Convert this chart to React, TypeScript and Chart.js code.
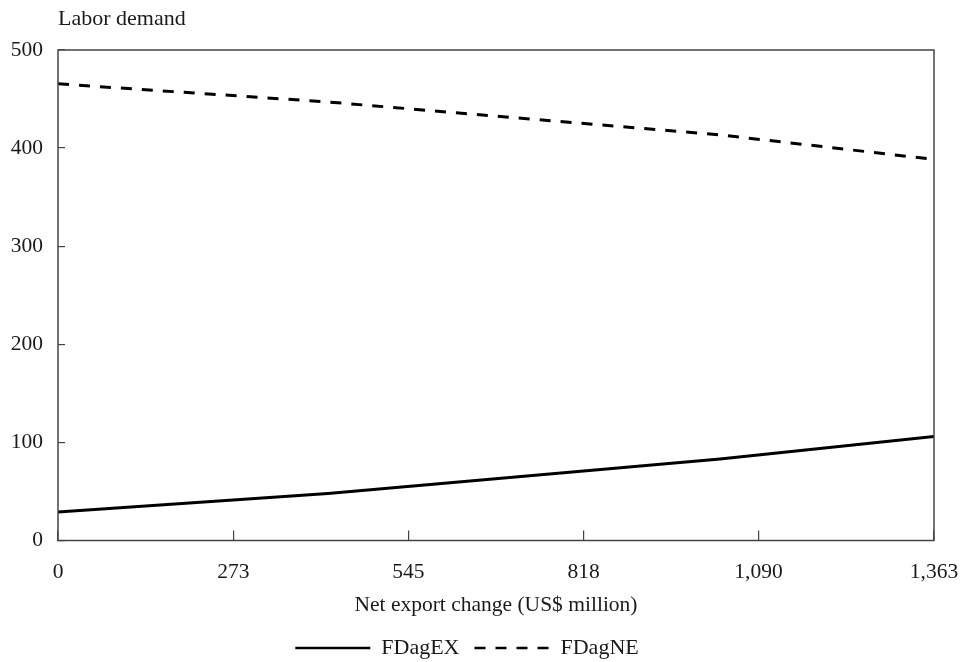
import React, { useEffect, useRef } from "react";
import { Chart, registerables } from "chart.js";

Chart.register(...registerables);

const xValues = [0, 420, 1030, 1363];
const fdagEX = [29, 48, 83, 106];
const fdagNE = [465.5, 447, 413.5, 388.5];
const xTickValues = [0, 273, 545, 818, 1090, 1363];
const seriesNames = ["FDagEX", "FDagNE"];
const yTitle = "Labor demand";
const xTitle = "Net export change (US$ million)";

const FONT = "'Liberation Serif', 'Times New Roman', serif";
const TEXT = "#1a1a1a";
const AXIS = "#444";

const boxPlugin = {
  id: "boxPlugin",
  afterDraw(chart: any) {
    const { ctx, chartArea } = chart;
    ctx.save();
    ctx.strokeStyle = AXIS;
    ctx.lineWidth = 1.5;
    ctx.strokeRect(chartArea.left, chartArea.top, chartArea.right - chartArea.left, chartArea.bottom - chartArea.top);
    ctx.restore();
  },
};

export default function App() {
  const ref = useRef<HTMLCanvasElement | null>(null);
  useEffect(() => {
    if (!ref.current) return;
    const chart = new Chart(ref.current, {
      type: "line",
      data: {
        datasets: [
          {
            label: seriesNames[0],
            data: xValues.map((x, i) => ({ x, y: fdagEX[i] })),
            borderColor: "#000",
            backgroundColor: "#000",
            borderWidth: 3,
            pointRadius: 0,
            tension: 0,
            fill: false,
          },
          {
            label: seriesNames[1],
            data: xValues.map((x, i) => ({ x, y: fdagNE[i] })),
            borderColor: "#000",
            backgroundColor: "#000",
            borderWidth: 3,
            borderDash: [11, 10],
            pointRadius: 0,
            tension: 0,
            fill: false,
          },
        ],
      },
      options: {
        animation: false,
        responsive: true,
        maintainAspectRatio: false,
        layout: { padding: { left: 0, right: 31, top: 0, bottom: -7 } },
        plugins: {
          title: {
            display: true,
            text: yTitle,
            align: "start",
            fullSize: false,
            color: TEXT,
            font: { family: FONT, size: 22, weight: "normal" },
            padding: { top: 6, bottom: 17.6 },
          },
          legend: {
            position: "bottom",
            labels: {
              usePointStyle: true,
              pointStyle: "line",
              pointStyleWidth: 75,
              color: TEXT,
              padding: 15,
              font: { family: FONT, size: 22 },
              generateLabels: (chart: any) => {
                const items = Chart.defaults.plugins.legend.labels.generateLabels(chart);
                return items.map((it: any) => {
                  const ds = chart.data.datasets[it.datasetIndex];
                  return { ...it, lineDash: ds.borderDash || [], lineWidth: 2.5, strokeStyle: "#000", fontColor: TEXT };
                });
              },
            },
          },
          tooltip: { enabled: false },
        },
        scales: {
          x: {
            type: "linear",
            min: 0,
            max: 1363,
            afterBuildTicks: (scale: any) => {
              scale.ticks = xTickValues.map((v) => ({ value: v }));
            },
            afterFit: (scale: any) => {
              scale.height = 81.5;
              scale.paddingLeft = 0;
              scale.paddingRight = 24;
            },
            border: { display: false },
            grid: { drawOnChartArea: false, drawTicks: true, tickLength: -10, color: AXIS, lineWidth: 1.2 },
            ticks: {
              color: TEXT,
              padding: 28.5,
              maxRotation: 0,
              font: { family: FONT, size: 21.5 },
              callback: (v: any) => Number(v).toLocaleString("en-US"),
            },
            title: {
              display: true,
              text: xTitle,
              color: TEXT,
              font: { family: FONT, size: 21.5 },
              padding: { top: 0, bottom: 4 },
            },
          },
          y: {
            min: 0,
            max: 500,
            afterFit: (scale: any) => {
              scale.width = 58;
            },
            border: { display: false },
            grid: { drawOnChartArea: false, drawTicks: true, tickLength: -7, color: AXIS, lineWidth: 1.2 },
            ticks: {
              stepSize: 100,
              color: TEXT,
              padding: 22,
              font: { family: FONT, size: 21.5 },
            },
          },
        },
      },
      plugins: [boxPlugin],
    } as any);
    return () => chart.destroy();
  }, []);
  return (
    <div style={{ position: "absolute", left: 0, top: 0, width: 965, height: 662, background: "#fff" }}>
      <canvas ref={ref} />
    </div>
  );
}
